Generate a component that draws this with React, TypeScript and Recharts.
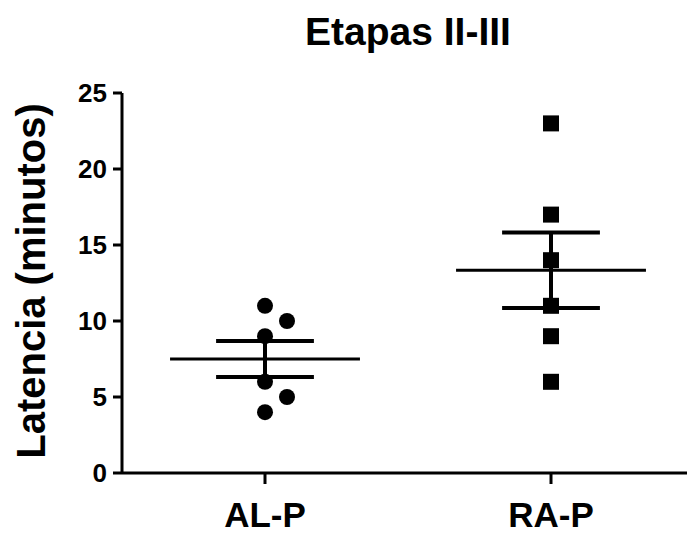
import React from 'react';
import { ScatterChart, Scatter, XAxis, YAxis, ReferenceLine } from 'recharts';

const groups = ['AL-P', 'RA-P'];
const alpValues = [11, 10, 9, 6, 5, 4];
const alpSlots = [0, 1, 0, 0, 1, 0];
const rapValues = [23, 17, 14, 11, 9, 6];
const rapSlots = [0, 0, 0, 0, 0, 0];
const yTicks = [0, 5, 10, 15, 20, 25];

const FONT = '"Liberation Sans", Arial, sans-serif';

const mean = (v: number[]) => v.reduce((a, b) => a + b, 0) / v.length;
const sem = (v: number[]) => {
  const m = mean(v);
  const sd = Math.sqrt(v.reduce((a, b) => a + (b - m) ** 2, 0) / (v.length - 1));
  return sd / Math.sqrt(v.length);
};

const alpData = alpValues.map((y, i) => ({ x: 1, y, slot: alpSlots[i] }));
const rapData = rapValues.map((y, i) => ({ x: 2, y, slot: rapSlots[i] }));

const CircleDot = (props: any) => {
  const { cx, cy, payload } = props;
  return <circle cx={cx + payload.slot * 22} cy={cy} r={8} fill="#000" />;
};

const SquareDot = (props: any) => {
  const { cx, cy, payload } = props;
  return <rect x={cx + payload.slot * 22 - 8} y={cy - 8} width={16} height={16} fill="#000" />;
};

const YLabel = () => (
  <text
    transform="translate(31,281) rotate(-90)"
    textAnchor="middle"
    dominantBaseline="central"
    fontFamily={FONT}
    fontWeight="bold"
    fontSize={40}
    fill="#000"
  >
    Latencia (minutos)
  </text>
);

const summary = (values: number[], x: number) => {
  const m = mean(values);
  const e = sem(values);
  return [
    <ReferenceLine key={`m${x}`} segment={[{ x: x - 0.332, y: m }, { x: x + 0.332, y: m }]} stroke="#000" strokeWidth={3} />,
    <ReferenceLine key={`v${x}`} segment={[{ x, y: m - e }, { x, y: m + e }]} stroke="#000" strokeWidth={4} />,
    <ReferenceLine key={`t${x}`} segment={[{ x: x - 0.171, y: m + e }, { x: x + 0.171, y: m + e }]} stroke="#000" strokeWidth={4} />,
    <ReferenceLine key={`b${x}`} segment={[{ x: x - 0.171, y: m - e }, { x: x + 0.171, y: m - e }]} stroke="#000" strokeWidth={4} />,
  ];
};

export default function App() {
  return (
    <div style={{ position: 'absolute', left: 0, top: 0, width: 687, height: 533, background: '#fff' }}>
      <ScatterChart width={687} height={533} margin={{ top: 93, right: 0, bottom: 0, left: 0 }}>
        <XAxis
          type="number"
          dataKey="x"
          domain={[0.5, 2.4755]}
          ticks={[1, 2]}
          tickFormatter={(v: number) => groups[v - 1]}
          height={60}
          axisLine={{ stroke: '#000', strokeWidth: 3 }}
          tickLine={{ stroke: '#000', strokeWidth: 3 }}
          tickSize={11}
          tickMargin={18}
          tick={{ fill: '#000', fontSize: 35, fontWeight: 'bold', fontFamily: FONT }}
        />
        <YAxis
          type="number"
          dataKey="y"
          domain={[0, 25]}
          ticks={yTicks}
          width={122}
          axisLine={{ stroke: '#000', strokeWidth: 3 }}
          tickLine={{ stroke: '#000', strokeWidth: 3 }}
          tickSize={9}
          tickMargin={6}
          tick={{ fill: '#000', fontSize: 26, fontWeight: 'bold', fontFamily: FONT }}
          label={<YLabel />}
        />
        {summary(alpValues, 1)}
        {summary(rapValues, 2)}
        <Scatter data={alpData} shape={<CircleDot />} isAnimationActive={false} />
        <Scatter data={rapData} shape={<SquareDot />} isAnimationActive={false} />
      </ScatterChart>
      <svg width={687} height={533} style={{ position: 'absolute', left: 0, top: 0, pointerEvents: 'none' }}>
        <text x={408} y={45} textAnchor="middle" fontFamily={FONT} fontWeight="bold" fontSize={39} fill="#000">
          Etapas II-III
        </text>
      </svg>
    </div>
  );
}
